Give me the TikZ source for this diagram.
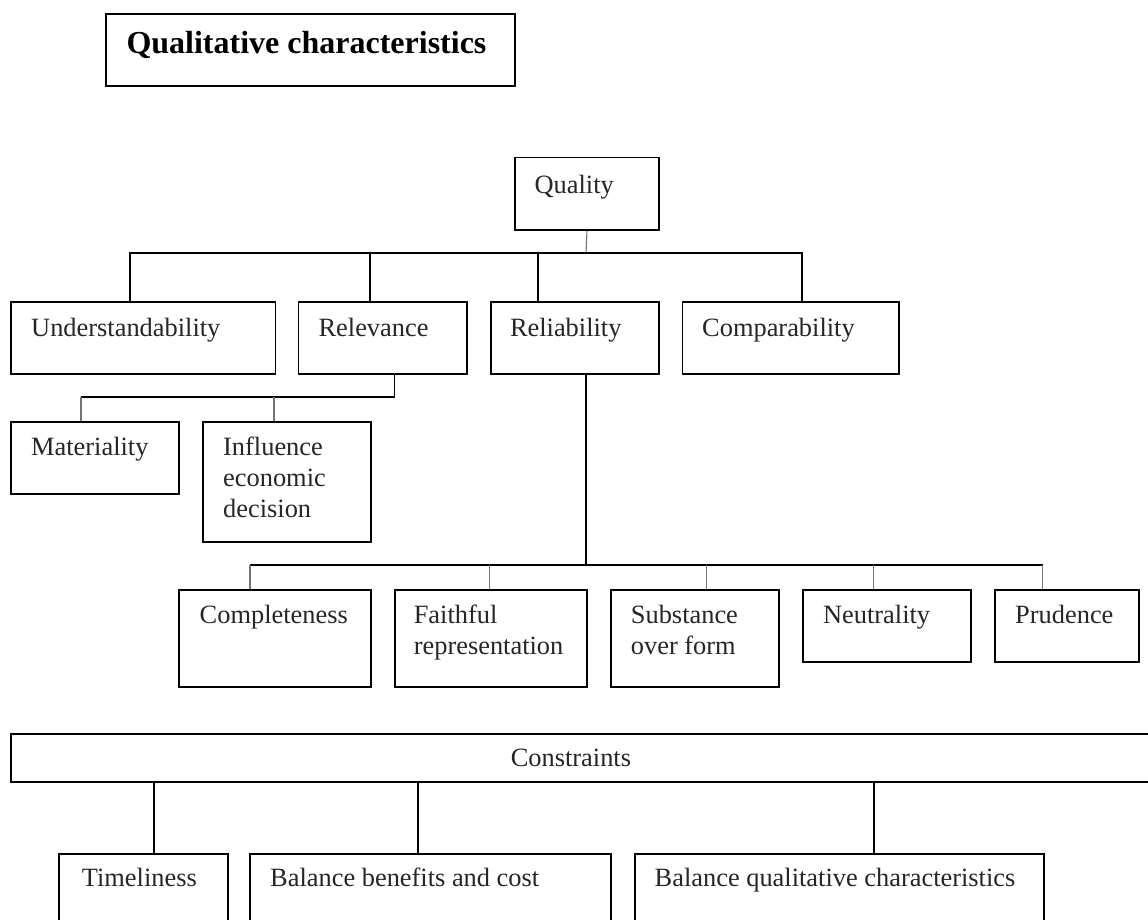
\documentclass[tikz,border=0pt]{standalone}
\usepackage{fontspec}
\setmainfont{Liberation Serif}
\begin{document}
\begin{tikzpicture}[x=1pt,y=-1pt]
\tikzset{
 box/.style={draw=black, line width=1.8pt, inner sep=0pt, anchor=north west},
 lbl/.style={inner sep=0pt, anchor=base west, align=left, font=\fontsize{26.4}{31}\selectfont, text=black!85},
 ln/.style={line width=1.7pt, draw=black},
 tn/.style={line width=1.1pt, draw=black!55},
}
\useasboundingbox (0,0) rectangle (1148,920);
\clip (0,0) rectangle (1148,920);
\fill[white] (0,0) rectangle (1148,920);

% boxes
\node[box, minimum width=408.8pt, minimum height=71.7pt] (title) at (105.4,13.3) {};
\node[box, minimum width=144.2pt, minimum height=72.3pt] (quality) at (514,156.7) {};
\node[box, minimum width=264.5pt, minimum height=71.7pt] (und) at (10,301) {};
\node[box, minimum width=168.7pt, minimum height=71.7pt] (rel) at (297.6,301) {};
\node[box, minimum width=168.5pt, minimum height=71.7pt] (relia) at (489.7,301) {};
\node[box, minimum width=216.7pt, minimum height=71.7pt] (comp) at (681.6,301) {};
\node[box, minimum width=168pt, minimum height=72.6pt] (mat) at (10,420.7) {};
\node[box, minimum width=168.3pt, minimum height=120.3pt] (inf) at (201.7,420.7) {};
\node[box, minimum width=192pt, minimum height=96.7pt] (cmpl) at (178,589) {};
\node[box, minimum width=192.6pt, minimum height=96.7pt] (faith) at (393.8,589) {};
\node[box, minimum width=168pt, minimum height=96.7pt] (subst) at (609.9,589) {};
\node[box, minimum width=168.3pt, minimum height=72pt] (neut) at (801.7,589) {};
\node[box, minimum width=144.2pt, minimum height=72pt] (prud) at (993.8,589) {};
\node[box, minimum width=1160pt, minimum height=47.7pt] (cons) at (10,733.3) {};
\node[box, minimum width=169pt, minimum height=86.7pt] (tim) at (57.7,853.3) {};
\node[box, minimum width=360.9pt, minimum height=86.7pt] (bbc) at (249.3,853.3) {};
\node[box, minimum width=409pt, minimum height=86.7pt] (bqc) at (633.7,853.3) {};

% texts (multi-line nodes are placed by the baseline of their last line)
\node[lbl, font=\fontsize{32}{38}\selectfont\bfseries, text=black] (titlet) at (126.3,53.3) {Qualitative characteristics};
\node[lbl] (qualityt) at (534.4,194) {Quality};
\node[lbl] (undt) at (31,336.7) {Understandability};
\node[lbl] (relt) at (318.4,336.7) {Relevance};
\node[lbl] (reliat) at (509.8,336.7) {Reliability};
\node[lbl] (compt) at (702,336.7) {Comparability};
\node[lbl] (matt) at (31,455) {Materiality};
\node[lbl] (inft) at (223,517.3) {Influence\\economic\\decision};
\node[lbl] (cmplt) at (199.5,623.3) {Completeness};
\node[lbl] (faitht) at (413.6,654.3) {Faithful\\representation};
\node[lbl] (substt) at (630.7,654.3) {Substance\\over form};
\node[lbl] (neutt) at (822.9,623.3) {Neutrality};
\node[lbl] (prudt) at (1015,623.3) {Prudence};
\node[lbl] (const) at (510.6,766.7) {Constraints};
\node[lbl] (timt) at (81.7,886.7) {Timeliness};
\node[lbl] (bbct) at (270,886.7) {Balance benefits and cost};
\node[lbl] (bqct) at (654.5,886.7) {Balance qualitative characteristics};

% connectors: quality -> second row
\coordinate (qb) at (586,253.3);
\coordinate (b1) at (130,253.3);
\coordinate (b2) at (370,253.3);
\coordinate (b3) at (537.7,253.3);
\coordinate (b4) at (802,253.3);
\draw[tn] (quality.south) -- (qb);
\draw[ln] (b1 |- und.north) -- (b1) -- (b4) -- (b4 |- comp.north);
\draw[ln] (b2) -- (b2 |- rel.north);
\draw[ln] (b3) -- (b3 |- relia.north);

% relevance -> children
\coordinate (rb) at (394.5,396.7);
\coordinate (mb) at (81,396.7);
\coordinate (ib) at (274,396.7);
\draw[ln] (rb |- rel.south) -- (rb) -- (mb);
\draw[tn] (mb) -- (mb |- mat.north);
\draw[tn] (ib) -- (ib |- inf.north);

% reliability -> children
\coordinate (lb) at (586,565);
\coordinate (c1) at (250,565);
\coordinate (c2) at (489.7,565);
\coordinate (c3) at (706.5,565);
\coordinate (c4) at (873.4,565);
\coordinate (c5) at (1042.5,565);
\draw[ln] (lb |- relia.south) -- (lb);
\draw[ln] (c1) -- (c5);
\draw[tn] (c1) -- (c1 |- cmpl.north);
\draw[tn] (c2) -- (c2 |- faith.north);
\draw[tn] (c3) -- (c3 |- subst.north);
\draw[tn] (c4) -- (c4 |- neut.north);
\draw[tn] (c5) -- (c5 |- prud.north);

% constraints -> children
\coordinate (d1) at (153.7,781);
\coordinate (d2) at (418,781);
\coordinate (d3) at (873.8,781);
\draw[ln] (d1) -- (d1 |- tim.north);
\draw[ln] (d2) -- (d2 |- bbc.north);
\draw[ln] (d3) -- (d3 |- bqc.north);
\end{tikzpicture}
\end{document}
